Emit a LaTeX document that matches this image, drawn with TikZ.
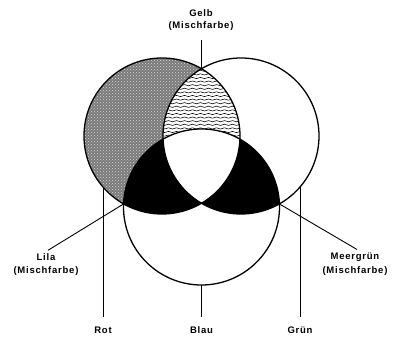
\documentclass[tikz,border=0pt]{standalone}
\usepackage{fontspec}
\newfontfamily\lblfont[LetterSpace=8]{Liberation Sans}
\usetikzlibrary{patterns,decorations.pathmorphing}
\tikzset{
  circ/.style={line width=1.3pt},
  lbl/.style={font=\lblfont\bfseries\fontsize{9.5}{10}\selectfont, inner sep=1pt, align=center},
  conn/.style={line width=0.9pt},
  wave/.style={line width=0.55pt, decorate, decoration={snake, amplitude=0.6pt, segment length=8pt}}
}
\begin{document}
\begin{tikzpicture}[x=1pt,y=-1pt]
\useasboundingbox (0,0) rectangle (394,344);
\def\R{78}
\coordinate (cl) at (162,136);
\coordinate (cr) at (241,136);
\coordinate (cb) at (201.5,207);
% gray stippled region (left circle)
\fill[black!52] (cl) circle (\R);
\fill[pattern=crosshatch dots, pattern color=white!85!black] (cl) circle (\R);
% left & right : wavy
\begin{scope}
  \clip (cl) circle (\R);
  \fill[white] (cr) circle (\R);
  \clip (cr) circle (\R);
  \foreach \y in {60,63.6,...,150} {
    \draw[wave] (150,\y) -- (260,\y);
  }
\end{scope}
% black lenses
\begin{scope}
  \clip (cb) circle (\R);
  \fill[black] (cl) circle (\R);
  \fill[black] (cr) circle (\R);
\end{scope}
% triple intersection white
\begin{scope}
  \clip (cl) circle (\R);
  \clip (cr) circle (\R);
  \fill[white] (cb) circle (\R);
\end{scope}
% outlines
\draw[circ] (cl) circle (\R);
\draw[circ] (cr) circle (\R);
\draw[circ] (cb) circle (\R);
% key points
\coordinate (ptop) at (201.5,68.7);
\coordinate (plila) at (123.5,204);
\coordinate (pmeer) at (279.5,204);
\coordinate (prot) at (103,187);
\coordinate (pgruen) at (300,187);
\coordinate (pblau) at (201.5,285);
% labels
\node[lbl] (gelb) at (201,13) {Gelb};
\node[lbl] (gelbm) at (201,26) {(Mischfarbe)};
\node[lbl] (lila) at (46,257) {Lila};
\node[lbl] (lilam) at (46,271) {(Mischfarbe)};
\node[lbl] (meer) at (355,257) {Meergrün};
\node[lbl] (meerm) at (355,271) {(Mischfarbe)};
\node[lbl] (rot) at (103,330) {Rot};
\node[lbl] (blau) at (201.5,330) {Blau};
\node[lbl] (gruen) at (300,330) {Grün};
% connectors
\draw[conn] (gelbm.south) ++(0.5,8) -- (ptop);
\draw[conn] (lila.north) ++(2,-2) -- (plila);
\draw[conn] (meer.north) ++(2,-2) -- (pmeer);
\draw[conn] (rot.north) ++(0,-8) -- (prot);
\draw[conn] (blau.north) ++(0,-8) -- (pblau);
\draw[conn] (gruen.north) ++(0,-8) -- (pgruen);
\end{tikzpicture}
\end{document}
